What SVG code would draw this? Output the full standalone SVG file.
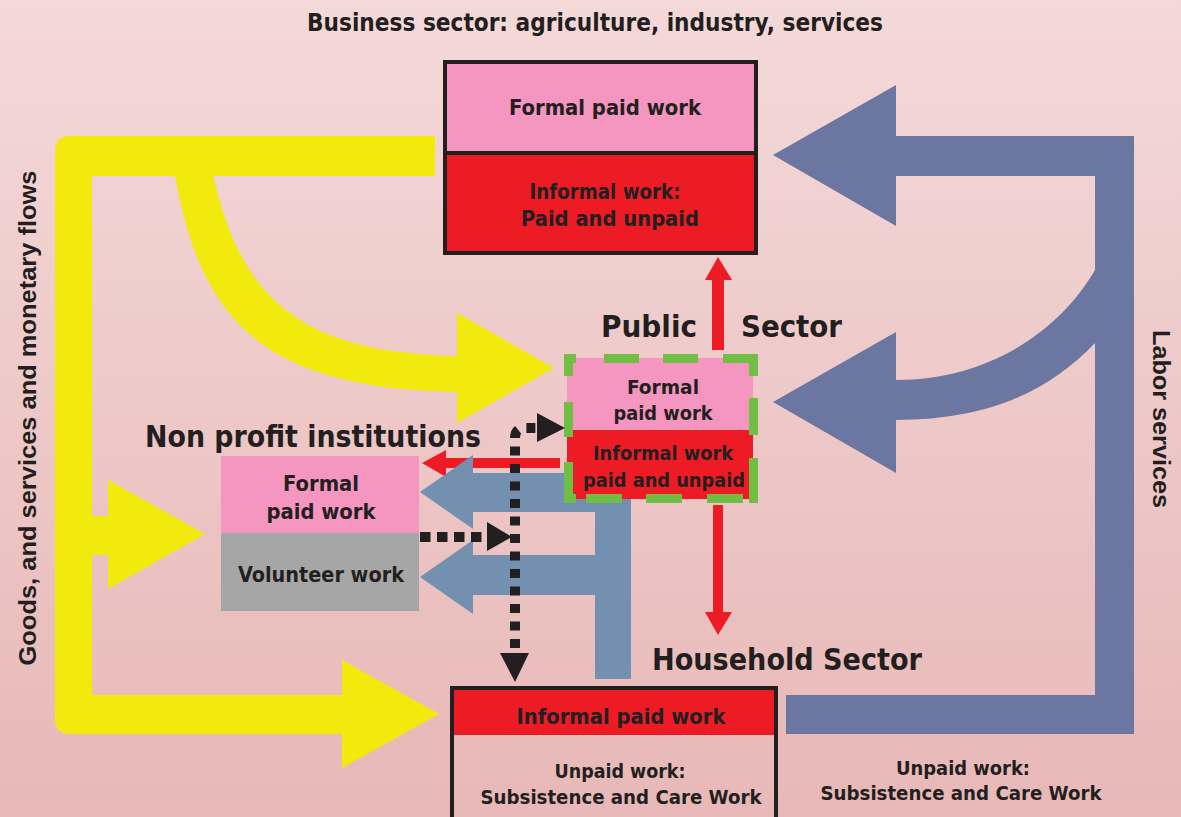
<svg xmlns="http://www.w3.org/2000/svg" width="1181" height="817" viewBox="0 0 1181 817">
<defs>
<linearGradient id="bg" x1="0" y1="0" x2="0" y2="1">
<stop offset="0" stop-color="#f4d9d9"/>
<stop offset="1" stop-color="#e7b8b7"/>
</linearGradient>
<style>
.t{font-family:"Liberation Sans Narrow","DejaVu Sans Condensed","Liberation Sans",sans-serif;font-weight:bold;fill:#231f20;text-anchor:middle}
.v{font-family:"Liberation Sans",Arial,sans-serif;font-weight:bold;fill:#231f20;text-anchor:middle}
.yel{fill:#f2ea0d}
.lab{fill:#6b77a1}
.stl{fill:#7490b0}
.red{fill:#ed1c24}
.pink{fill:#f496bf}
.dot{fill:none;stroke:#231f20;stroke-width:10;stroke-dasharray:9 8.5}
.blk{fill:#231f20}
.gd{fill:none;stroke:#70bf44;stroke-width:9}
</style>
</defs>
<rect x="0" y="0" width="1181" height="817" fill="url(#bg)"/>

<g id="connectors">
<!-- yellow goods flows -->
<path class="yel" d="M435,136 H70 Q55,136 55,151 V719 Q55,734 70,734 H342 V768 L439,714 L342,660 V695 H92 V555 H108 V589 L205,534 L108,480 V516 H92 V176 H435 Z"/>
<path class="yel" d="M174,170 C200,320 260,388 457,392 V423 L554,368 L457,313 V356 C300,352 240,300 212,170 Z"/>
<!-- labor services -->
<path class="lab" d="M786,695 H1095 V343 C1050,390 990,420 896,420 V473 L773,402 L896,332 V380 C990,380 1060,330 1095,270 V176 H896 V226 L773,155 L896,85 V136 H1134 V734 H786 Z"/>
<!-- red arrows -->
<path class="red" d="M712,350 V280 H705 L718,257 L732,280 H724 V350 Z"/>
<path class="red" d="M713,505 V612 H705 L718,635 L732,612 H723 V505 Z"/>
<path class="red" d="M560,458 H446 V450 L422,463 L446,477 V468 H560 Z"/>
<!-- steel blue to non-profit -->
<path class="stl" d="M631,473 V679 H595 V595 H473 V614 L420,577 L473,540 V555 H595 V512 H473 V529 L420,492 L473,455 V473 Z"/>
</g>

<g id="nonprofit">
<rect x="221" y="456" width="198" height="77" class="pink"/>
<rect x="221" y="533" width="198" height="78" fill="#a6a6a6"/>
<text class="t" x="313" y="447" font-size="31" textLength="336" lengthAdjust="spacingAndGlyphs">Non profit institutions</text>
<text class="t" x="321" y="491" font-size="21" textLength="76" lengthAdjust="spacingAndGlyphs">Formal</text>
<text class="t" x="321" y="519" font-size="21" textLength="109" lengthAdjust="spacingAndGlyphs">paid work</text>
<text class="t" x="321" y="582" font-size="21" textLength="166" lengthAdjust="spacingAndGlyphs">Volunteer work</text>
</g>

<g id="public">
<rect x="567" y="358" width="186" height="72" class="pink"/>
<rect x="567" y="430" width="186" height="69" class="red"/>
<path class="gd" d="M564,358.5 H576 M604,358.5 H639 M663,358.5 H698 M723,358.5 H758 M753.5,354 V376 M753.5,398 V435 M753.5,458 V503 M564,498.5 H576 M586,498.5 H622 M646,498.5 H682 M707,498.5 H743 M749,498.5 H758 M568.5,354 V376 M568.5,402 V437 M568.5,462 V503"/>
<text class="t" x="601" y="337" font-size="31" textLength="96" lengthAdjust="spacingAndGlyphs" style="text-anchor:start">Public</text>
<text class="t" x="741" y="337" font-size="31" textLength="101" lengthAdjust="spacingAndGlyphs" style="text-anchor:start">Sector</text>
<text class="t" x="663" y="394" font-size="19" textLength="72" lengthAdjust="spacingAndGlyphs">Formal</text>
<text class="t" x="663" y="420" font-size="19" textLength="99" lengthAdjust="spacingAndGlyphs">paid work</text>
<text class="t" x="663" y="460" font-size="20" textLength="140" lengthAdjust="spacingAndGlyphs">Informal work</text>
<text class="t" x="664" y="487" font-size="20" textLength="162" lengthAdjust="spacingAndGlyphs">paid and unpaid</text>
</g>

<g id="business">
<text class="t" x="595" y="31" font-size="25" textLength="576" lengthAdjust="spacingAndGlyphs">Business sector: agriculture, industry, services</text>
<rect x="445" y="62" width="311" height="91" class="pink"/>
<rect x="445" y="153" width="311" height="100" class="red"/>
<rect x="445" y="62" width="311" height="191" fill="none" stroke="#231f20" stroke-width="4"/>
<line x1="445" y1="153" x2="756" y2="153" stroke="#231f20" stroke-width="4"/>
<text class="t" x="605" y="115" font-size="22" textLength="192" lengthAdjust="spacingAndGlyphs">Formal paid work</text>
<text class="t" x="605" y="199" font-size="22" textLength="151" lengthAdjust="spacingAndGlyphs">Informal work:</text>
<text class="t" x="610" y="226" font-size="22" textLength="178" lengthAdjust="spacingAndGlyphs">Paid and unpaid</text>
</g>

<g id="household">
<text class="t" x="787" y="670" font-size="31" textLength="270" lengthAdjust="spacingAndGlyphs">Household Sector</text>
<rect x="454" y="690" width="322" height="45" class="red"/>
<rect x="452" y="688" width="324" height="150" fill="none" stroke="#231f20" stroke-width="4"/>
<text class="t" x="621" y="724" font-size="21" textLength="209" lengthAdjust="spacingAndGlyphs">Informal paid work</text>
<text class="t" x="620" y="778" font-size="19" textLength="131" lengthAdjust="spacingAndGlyphs">Unpaid work:</text>
<text class="t" x="621" y="804" font-size="19" textLength="281" lengthAdjust="spacingAndGlyphs">Subsistence and Care Work</text>
</g>

<g id="household-unpaid">
<text class="t" x="963" y="775" font-size="19" textLength="134" lengthAdjust="spacingAndGlyphs">Unpaid work:</text>
<text class="t" x="961" y="800" font-size="19" textLength="281" lengthAdjust="spacingAndGlyphs">Subsistence and Care Work</text>
</g>

<g id="dotted-connectors">
<path class="dot" d="M515,648 V438 Q515,428 525,428 H538"/>
<path class="blk" d="M537,413 L565,428 L537,442 Z"/>
<path class="blk" d="M500,653 L529,653 L515,682 Z"/>
<path class="dot" d="M420,537 H487" style="stroke-dasharray:10.5 6.5"/>
<path class="blk" d="M487,522 L512,537 L487,551 Z"/>
</g>

<g id="axis-labels">
<text class="v" transform="translate(36,418) rotate(-90)" font-size="23" textLength="495" lengthAdjust="spacingAndGlyphs">Goods, and services and monetary flows</text>
<text class="v" transform="translate(1153,419) rotate(90)" font-size="23" textLength="178" lengthAdjust="spacingAndGlyphs">Labor services</text>
</g>
</svg>
